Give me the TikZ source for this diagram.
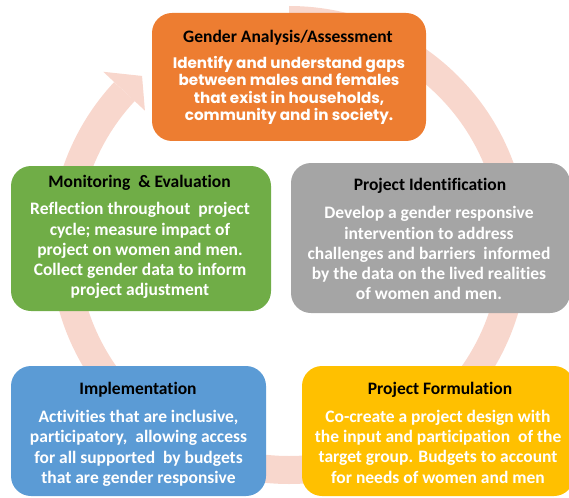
\documentclass[tikz,border=0pt]{standalone}
\usepackage{fontspec}
\setmainfont{Carlito}[Ligatures=NoCommon]
\newfontfamily\gothic{Poppins}
\definecolor{ringc}{RGB}{248,215,205}
\definecolor{orng}{RGB}{237,125,49}
\definecolor{grn}{RGB}{112,173,71}
\definecolor{gry}{RGB}{165,165,165}
\definecolor{blu}{RGB}{91,155,213}
\definecolor{ylw}{RGB}{255,192,0}
\tikzset{
  box/.style={rounded corners=20pt, inner sep=0pt, draw=none},
  ttl/.style={font=\fontsize{17.5}{20}\selectfont\bfseries, text=black, inner sep=0pt},
  bodytxt/.style={font=\fontsize{17.5}{20.2}\selectfont\bfseries, text=white, align=center, inner sep=0pt},
  gbody/.style={font=\gothic\fontsize{15.2}{17.6}\selectfont\bfseries, text=white, align=center, inner sep=0pt},
}
\begin{document}
\begin{tikzpicture}[x=1pt,y=1pt]
\useasboundingbox (0,0) rectangle (569,-497);
% ring with arrowhead
\coordinate (c) at (289,-245);
\draw[ringc, line width=28pt] (c) ++(90:225) arc[start angle=90, end angle=-223, radius=225];
\fill[ringc, shift={(c)}] (137:254) -- (131:224) -- (137:197) -- cycle;
% boxes
\node[box, fill=orng, minimum width=274pt, minimum height=128pt] (ga) at (289,-77) {};
\node[box, fill=grn, minimum width=260pt, minimum height=145pt] (me) at (141,-238.5) {};
\node[box, fill=gry, minimum width=279pt, minimum height=150pt] (pi) at (430.5,-238) {};
\node[box, fill=blu, minimum width=255pt, minimum height=130pt] (im) at (138.5,-431) {};
\node[box, fill=ylw, minimum width=272pt, minimum height=130pt] (pf) at (438,-431) {};
% texts
\node[ttl] (gat) at (288,-37.3) {Gender Analysis/Assessment};
\node[gbody] (gab) at (289,-90.4) {Identify and understand gaps\\between males and females\\that exist in households,\\community and in society.};
\node[ttl] (met) at (139.5,-183.3) {Monitoring \ \& Evaluation};
\node[bodytxt] (meb) at (140,-250.7) {Reflection throughout \ project\\cycle; measure impact of\\project on women and men.\\Collect gender data to inform\\project adjustment};
\node[ttl] (pit) at (430,-185.7) {Project Identification};
\node[bodytxt] (pib) at (429,-253.3) {Develop a gender responsive\\intervention to address\\challenges and barriers \ informed\\by the data on the lived realities\\of women and men.};
\node[ttl] (imt) at (138,-390) {Implementation};
\node[bodytxt] (imb) at (138.5,-448.3) {Activities that are inclusive,\\participatory, \ allowing access\\for all supported \ by budgets\\that are gender responsive};
\node[ttl] (pft) at (440,-390) {Project Formulation};
\node[bodytxt] (pfb) at (438,-446.7) {Co-create a project design with\\the input and participation \ of the\\target group. Budgets to account\\for needs of women and men};
\end{tikzpicture}
\end{document}
